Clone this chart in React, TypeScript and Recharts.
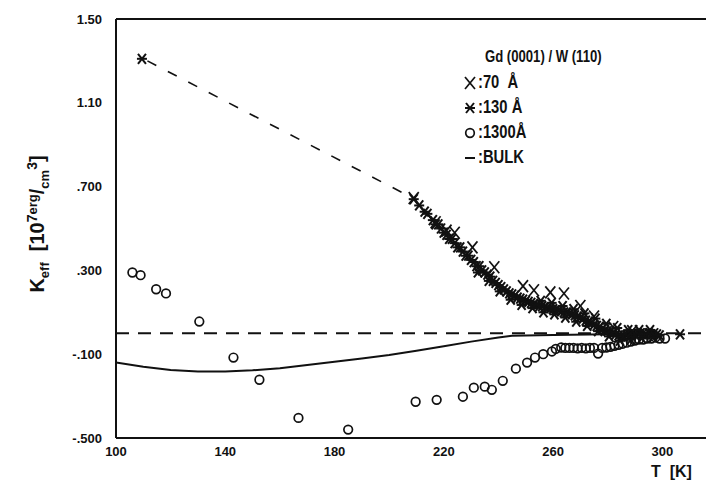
import React from 'react';
import { ComposedChart, Scatter, XAxis, YAxis, ReferenceLine } from 'recharts';

// T [K], K_eff [10^7 erg/cm^3]
const sample70: [number, number][] = [
  [209, 0.645], [217, 0.53], [221, 0.49], [224, 0.48], [230.5, 0.41], [238.5, 0.315],
  [249, 0.225], [253, 0.205], [259, 0.195], [264, 0.19], [270, 0.13], [275, 0.08],
  [282, 0.03], [289, 0.01],
];

const sample130: [number, number][] = [
  [109.5, 1.31],
  [209, 0.64], [211, 0.61], [213, 0.58], [214, 0.57], [216, 0.54], [217, 0.52], [218, 0.52],
  [219, 0.5], [220, 0.48], [221, 0.47], [222, 0.45], [223, 0.45], [224, 0.43], [225, 0.41],
  [226, 0.41], [227, 0.39], [228, 0.37], [229, 0.37], [230, 0.35], [231, 0.34], [232, 0.32],
  [233, 0.32], [234, 0.3], [235, 0.29], [236, 0.28], [237, 0.27], [238, 0.25], [239, 0.24],
  [240, 0.23], [241, 0.22], [242, 0.21], [243, 0.2], [244, 0.19], [245, 0.185], [246, 0.18],
  [247, 0.17], [248, 0.165], [249, 0.16], [250, 0.155], [251, 0.15], [252, 0.145], [253, 0.14],
  [254, 0.135], [255, 0.13], [256, 0.13], [257, 0.125], [258, 0.12], [259, 0.12], [260, 0.115],
  [261, 0.11], [262, 0.11], [263, 0.105], [264, 0.1], [265, 0.1], [266, 0.095], [267, 0.09],
  [268, 0.085], [269, 0.08], [270, 0.075], [271, 0.07], [272, 0.06], [273, 0.055], [274, 0.05],
  [275, 0.04], [276, 0.035], [277, 0.03], [278, 0.02], [279, 0.015], [280, 0.01], [281, 0.005],
  [282, 0], [283, -0.005], [284, -0.01], [285, -0.015], [286, -0.015], [287, -0.01], [288, -0.01],
  [289, -0.005], [290, -0.005], [291, 0], [292, 0], [293, 0], [294, -0.005], [295, 0],
  [296, -0.005], [297, 0], [298, -0.005], [299, -0.01], [306.5, -0.005],
];

// extra 130 A points that make the band thick
const band130: [number, number][] = [
  [232.5, 0.29], [236.5, 0.25], [240.5, 0.2], [244.5, 0.16], [248.5, 0.135], [252.5, 0.12],
  [256.5, 0.1], [260.5, 0.09], [264.5, 0.075], [268.5, 0.055], [272.5, 0.035], [276.5, 0.01],
  [280.5, -0.015], [284.5, -0.035], [288.5, -0.03], [292.5, -0.025], [296.5, -0.02],
  [255.5, 0.155], [259.5, 0.145], [263.5, 0.13], [267.5, 0.115], [271.5, 0.095], [275.5, 0.07],
  [279.5, 0.045], [283.5, 0.025], [287.5, 0.015], [291.5, 0.015], [295.5, 0.015],
];

const sample1300: [number, number][] = [
  [106, 0.29], [109, 0.277], [114.7, 0.21], [118.3, 0.19], [130.5, 0.056], [143, -0.116],
  [152.5, -0.222], [166.8, -0.404], [185, -0.46], [209.7, -0.327], [217.4, -0.318],
  [227, -0.303], [231, -0.26], [235, -0.255], [237.6, -0.27], [241.6, -0.227], [246.4, -0.169],
  [250.5, -0.14], [253.4, -0.116], [256.4, -0.1], [259.6, -0.087], [261, -0.075], [263, -0.068],
  [264.5, -0.07], [266, -0.07], [267.5, -0.07], [269, -0.072], [270.5, -0.07], [272, -0.072],
  [273.5, -0.07], [275, -0.07], [276.5, -0.097], [278, -0.07], [279.5, -0.068], [281, -0.065],
  [282.5, -0.06], [284, -0.055], [285.5, -0.05], [287, -0.045], [288.5, -0.04], [290, -0.035],
  [291.5, -0.03], [293, -0.03], [294.5, -0.025], [296, -0.025], [297.5, -0.02], [299, -0.025],
  [301, -0.025],
];

const bulk: [number, number][] = [
  [100, -0.14], [110, -0.16], [120, -0.175], [130, -0.182], [140, -0.182], [150, -0.177],
  [160, -0.167], [170, -0.152], [180, -0.136], [190, -0.12], [200, -0.104], [210, -0.084],
  [220, -0.062], [230, -0.04], [240, -0.02], [245, -0.012], [260, -0.008], [280, -0.005],
  [293, 0],
];

const extrapolation: [number, number][] = [[111.5, 1.3], [208, 0.65]];

const xTicks = [100, 120, 140, 160, 180, 200, 220, 240, 260, 280, 300];
const xLabels = [100, 140, 180, 220, 260, 300];
const yTicks = [-0.5, -0.3, -0.1, 0.1, 0.3, 0.5, 0.7, 0.9, 1.1, 1.3, 1.5];
const yLabels: Record<string, string> = {
  '-0.5': '-.500',
  '-0.1': '-.100',
  '0.3': '.300',
  '0.7': '.700',
  '1.1': '1.10',
  '1.5': '1.50',
};

const toPts = (rows: [number, number][]) => rows.map(([x, y]) => ({ x, y }));

const FONT = '"Liberation Sans", Arial, sans-serif';
const INK = '#111';
const X_DOMAIN: [number, number] = [100, 316];
const Y_DOMAIN: [number, number] = [-0.5, 1.5];

const Cross = ({ cx, cy }: any) => (
  <g stroke={INK} strokeWidth={1.7}>
    <line x1={cx - 5} y1={cy - 6} x2={cx + 5} y2={cy + 6} />
    <line x1={cx - 5} y1={cy + 6} x2={cx + 5} y2={cy - 6} />
  </g>
);

const Star = ({ cx, cy }: any) => (
  <g stroke={INK} strokeWidth={2}>
    <line x1={cx - 4} y1={cy - 5} x2={cx + 4} y2={cy + 5} />
    <line x1={cx - 4} y1={cy + 5} x2={cx + 4} y2={cy - 5} />
    <line x1={cx - 5} y1={cy} x2={cx + 5} y2={cy} />
  </g>
);

const Ring = ({ cx, cy }: any) => (
  <circle cx={cx} cy={cy} r={4.3} fill="none" stroke={INK} strokeWidth={1.7} />
);

const Nothing = () => <g />;

const tickStyle = { fontFamily: FONT, fontWeight: 'bold', fontSize: 13, fill: INK } as const;
const inwardTick = { stroke: INK, strokeWidth: 1.5 };
const frame = { stroke: INK, strokeWidth: 2 };

const legendRow = { display: 'flex', alignItems: 'center', height: 25 } as const;
const squeeze = { transform: 'scaleX(0.82)', transformOrigin: 'left center', display: 'inline-block' } as const;

export default function App() {
  return (
    <div style={{ position: 'absolute', left: 0, top: 0, width: 709, height: 490, background: '#fff', fontFamily: FONT }}>
      <ComposedChart width={709} height={490} margin={{ top: 19, right: 3, left: 0, bottom: 0 }}>
        {/* inward tick marks (mirrored) */}
        <XAxis
          xAxisId="ticks"
          type="number"
          domain={X_DOMAIN}
          ticks={xTicks}
          height={1}
          mirror
          tick={false}
          tickSize={7}
          tickLine={inwardTick}
          axisLine={frame}
        />
        <XAxis
          dataKey="x"
          type="number"
          domain={X_DOMAIN}
          ticks={xTicks}
          height={52}
          tickLine={false}
          tickSize={0}
          tickMargin={9}
          tick={tickStyle}
          tickFormatter={(v: number) => (xLabels.includes(v) ? String(v) : '')}
          axisLine={false}
          allowDataOverflow
        />
        <XAxis
          xAxisId="top"
          type="number"
          orientation="top"
          domain={X_DOMAIN}
          ticks={xTicks}
          height={1}
          mirror
          tick={false}
          tickSize={7}
          tickLine={inwardTick}
          axisLine={frame}
        />
        <YAxis
          yAxisId="ticks"
          type="number"
          domain={Y_DOMAIN}
          ticks={yTicks}
          width={1}
          mirror
          tick={false}
          tickSize={8}
          tickLine={inwardTick}
          axisLine={frame}
        />
        <YAxis
          dataKey="y"
          type="number"
          domain={Y_DOMAIN}
          ticks={yTicks}
          width={116}
          tickLine={false}
          tickSize={0}
          tickMargin={14}
          tick={tickStyle}
          tickFormatter={(v: number) => yLabels[String(v)] ?? ''}
          axisLine={false}
          allowDataOverflow
        />
        <YAxis
          yAxisId="r"
          type="number"
          orientation="right"
          domain={Y_DOMAIN}
          ticks={yTicks}
          width={1}
          mirror
          tick={false}
          tickSize={6}
          tickLine={inwardTick}
          axisLine={false}
        />
        <ReferenceLine y={0} stroke={INK} strokeWidth={2} strokeDasharray="13 9" />
        <Scatter
          data={toPts(extrapolation)}
          shape={<Nothing />}
          line={{ stroke: INK, strokeWidth: 1.6, strokeDasharray: '10 13' }}
          isAnimationActive={false}
        />
        <Scatter
          data={toPts(bulk)}
          shape={<Nothing />}
          line={{ stroke: INK, strokeWidth: 2 }}
          isAnimationActive={false}
        />
        <Scatter data={toPts(sample1300)} shape={<Ring />} isAnimationActive={false} />
        <Scatter data={toPts(sample130.concat(band130))} shape={<Star />} isAnimationActive={false} />
        <Scatter data={toPts(sample70)} shape={<Cross />} isAnimationActive={false} />
      </ComposedChart>

      <div
        style={{
          position: 'absolute',
          left: 38,
          top: 224,
          transform: 'translate(-50%, -50%) rotate(-90deg)',
          whiteSpace: 'nowrap',
          fontWeight: 'bold',
          fontSize: 20,
          color: INK,
        }}
      >
        K<sub style={{ fontSize: 13 }}>eff</sub>&nbsp;&nbsp;[10<sup style={{ fontSize: 14 }}>7</sup>
        <sup style={{ fontSize: 13 }}>erg</sup>/<sub style={{ fontSize: 13 }}>cm</sub>
        <sup style={{ fontSize: 14 }}>3</sup>]
      </div>

      <div style={{ position: 'absolute', left: 485, top: 48, fontWeight: 'bold', fontSize: 16, color: INK, whiteSpace: 'nowrap' }}>
        <span style={squeeze}>Gd (0001) / W (110)</span>
      </div>
      <div style={{ position: 'absolute', left: 463, top: 70, fontWeight: 'bold', fontSize: 18, color: INK, whiteSpace: 'nowrap' }}>
        <div style={legendRow}>
          <svg width={15} height={18}><Cross cx={7} cy={9} /></svg>
          <span style={squeeze}>:70&nbsp;&nbsp;Å</span>
        </div>
        <div style={legendRow}>
          <svg width={15} height={18}><Star cx={7} cy={9} /></svg>
          <span style={squeeze}>:130 Å</span>
        </div>
        <div style={legendRow}>
          <svg width={15} height={18}><Ring cx={7} cy={9} /></svg>
          <span style={squeeze}>:1300Å</span>
        </div>
        <div style={legendRow}>
          <svg width={15} height={18}><line x1={2} x2={12} y1={9} y2={9} stroke={INK} strokeWidth={2} /></svg>
          <span style={squeeze}>:BULK</span>
        </div>
      </div>

      <div style={{ position: 'absolute', left: 651, top: 463, fontWeight: 'bold', fontSize: 16, color: INK, whiteSpace: 'nowrap' }}>
        T&nbsp;&nbsp;[K]
      </div>
    </div>
  );
}
